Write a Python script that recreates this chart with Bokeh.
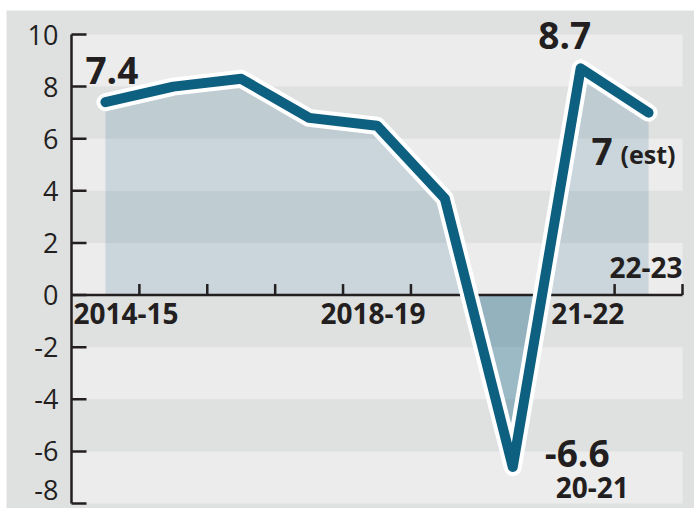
from bokeh.plotting import figure
from bokeh.models import BoxAnnotation
from bokeh.core.properties import value
from bokeh.embed import file_html
from bokeh.resources import INLINE

# ---- data ----
years = ["2014-15", "2015-16", "2016-17", "2017-18", "2018-19",
         "2019-20", "2020-21", "2021-22", "2022-23"]
growth = [7.4, 8.0, 8.3, 6.8, 6.5, 3.7, -6.6, 8.7, 7.0]
y_ticks = [-8, -6, -4, -2, 0, 2, 4, 6, 8, 10]
# year boundaries that carry a small tick on the zero line (index of year before boundary)
x_tick_after = [0, 1, 2, 3, 4, 6, 7, 8]
# shown year labels: (year index, text)
year_labels_below = [(4, "2018-19"), (7, "21-22")]
first_label = (0, "2014-15")
last_label = (8, "22-23")
dip_label = (6, "20-21")
value_label_idx = [0, 7, 8, 6]

LINE = "#0e6080"
INK = "#231f20"
GRAY = "#dfe0e0"
LIGHT = "#ececec"
FONT = value("Open Sans")

n = len(years)
idx = list(range(n))

# ---- layout (pixels) ----
W, H = 688, 498
AX_L, AX_R = 65, 676      # px of plot area left/right edges
AX_T, AX_B = 24, 493      # px of top/bottom tick
x_lo, x_hi = -0.5, n - 0.5
y_lo, y_hi = y_ticks[0], y_ticks[-1]
xu = (x_hi - x_lo) / (AX_R - AX_L)
yu = (y_hi - y_lo) / (AX_B - AX_T)
x_range = (x_lo - AX_L * xu, x_hi + (W - AX_R) * xu)
y_range = (y_lo - (H - AX_B) * yu, y_hi + AX_T * yu)

p = figure(width=W, height=H, x_range=x_range, y_range=y_range,
           output_backend="svg", toolbar_location=None,
           x_axis_location=None, y_axis_location=None,
           min_border=0, background_fill_color=GRAY, border_fill_color=GRAY,
           outline_line_color=None)
p.margin = (10, 0, 0, 6)
p.grid.visible = False

# light bands
for k in range(0, len(y_ticks) - 1, 2):
    p.add_layout(BoxAnnotation(left=x_lo, right=x_hi, bottom=y_ticks[k], top=y_ticks[k + 1],
                               fill_color=LIGHT, fill_alpha=1.0, line_color=None,
                               level="underlay"))

# area under the line
p.varea(x=idx, y1=[0] * n, y2=growth, fill_color=LINE, fill_alpha=0.15)

# darker negative part (zero crossings computed from the data)
nx, ny = [], []
for i in range(n):
    if growth[i] < 0:
        if i > 0 and growth[i - 1] >= 0:
            t = growth[i - 1] / (growth[i - 1] - growth[i])
            nx.append(i - 1 + t); ny.append(0)
        nx.append(i); ny.append(growth[i])
        if i < n - 1 and growth[i + 1] >= 0:
            t = growth[i] / (growth[i] - growth[i + 1])
            nx.append(i + t); ny.append(0)
p.patch(nx, ny, fill_color=LINE, fill_alpha=0.24, line_color=None)

# y axis: line, inward ticks, labels
p.segment(x0=[x_lo], y0=[y_lo], x1=[x_lo], y1=[y_hi], line_color=INK, line_width=2.5)
ytick_len = 15 * xu
p.segment(x0=[x_lo] * len(y_ticks), y0=y_ticks, x1=[x_lo + ytick_len] * len(y_ticks),
          y1=y_ticks, line_color=INK, line_width=2.5)
ylab_off = [-14 if t == y_ticks[0] else 0 for t in y_ticks]
p.text(x=[x_lo] * len(y_ticks), y=y_ticks, text=[str(t) for t in y_ticks],
       x_offset=-13, y_offset=ylab_off, text_align="right", text_baseline="middle",
       text_font=FONT, text_font_size="27px", text_color=INK)

# zero line with small ticks
p.segment(x0=[x_lo], y0=[0], x1=[x_hi], y1=[0], line_color=INK, line_width=2.5)
tick_len = 11 * yu
tx = [i + 0.5 for i in x_tick_after]
p.segment(x0=tx, y0=[0] * len(tx), x1=tx, y1=[tick_len] * len(tx),
          line_color=INK, line_width=2.5)

# the line with white casing
p.line(idx, growth, line_color="white", line_width=18, line_join="round", line_cap="round")
p.line(idx, growth, line_color=LINE, line_width=10, line_join="round", line_cap="round")

# value labels
def fmt(v):
    return f"{v:g}"

big = dict(text_font=FONT, text_font_style="bold", text_font_size="37px",
           text_color=INK, text_baseline="alphabetic")
i0, i7, i8, i6 = value_label_idx
p.text(x=[i0], y=[growth[i0]], text=[fmt(growth[i0])], text_align="left",
       x_offset=-20, y_offset=-32, **big)
p.text(x=[i7], y=[growth[i7]], text=[fmt(growth[i7])], text_align="center",
       x_offset=-16, y_offset=-33, **big)
p.text(x=[i8], y=[growth[i8]], text=[fmt(growth[i8])], text_align="left",
       x_offset=-57, y_offset=39, **big)
p.text(x=[i6], y=[growth[i6]], text=[fmt(growth[i6])], text_align="left",
       x_offset=32, y_offset=-14, **big)
p.text(x=[i8], y=[growth[i8]], text=["(est)"], text_align="left",
       x_offset=-28, y_offset=41, text_font=FONT, text_font_style="bold",
       text_font_size="25px", text_color=INK, text_baseline="alphabetic")

# year labels
yl = dict(text_font=FONT, text_font_style="bold", text_font_size="28px",
          text_color=INK, text_baseline="alphabetic")
p.text(x=[first_label[0] - 0.5], y=[0], text=[first_label[1]], text_align="left",
       x_offset=2, y_offset=18, **yl)
p.text(x=[year_labels_below[0][0]], y=[0], text=[year_labels_below[0][1]],
       text_align="center", x_offset=-4, y_offset=18, **yl)
p.text(x=[year_labels_below[1][0]], y=[0], text=[year_labels_below[1][1]],
       text_align="center", x_offset=7, y_offset=18, **yl)
p.text(x=[last_label[0] + 0.5], y=[0], text=[last_label[1]], text_align="right",
       x_offset=0, y_offset=-28, **yl)
p.text(x=[dip_label[0]], y=[growth[dip_label[0]]], text=[dip_label[1]],
       text_align="left", x_offset=43, y_offset=20, **yl)

open("out.html", "w").write(file_html(p, INLINE))
